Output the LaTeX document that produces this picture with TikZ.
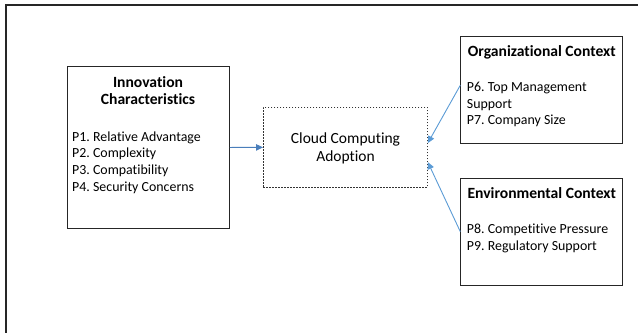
\documentclass[tikz,border=0pt]{standalone}
\usepackage{fontspec}
\setmainfont{Carlito}[Ligatures=NoCommon]
\usetikzlibrary{arrows.meta}
\definecolor{darkarrow}{HTML}{4A7EBB}
\definecolor{lightarrow}{HTML}{5B9BD5}
\frenchspacing
\begin{document}
\begin{tikzpicture}[x=1pt,y=-1pt,
  box/.style={draw=black!85,line width=0.9pt,inner sep=0pt,anchor=north west},
  dbox/.style={draw=black!80,line width=0.8pt,dash pattern=on 1.2pt off 1.8pt,inner sep=0pt,anchor=north west},
  txt/.style={inner sep=0pt,anchor=base west,font=\fontsize{13.9}{16}\selectfont},
  ttl/.style={inner sep=0pt,anchor=base,font=\fontsize{15.6}{18}\selectfont\bfseries},
  ctr/.style={inner sep=0pt,anchor=base,font=\fontsize{15.5}{18}\selectfont},
  conn/.style={line width=0.9pt,-{Triangle[length=7pt,width=6.5pt]}}]
\useasboundingbox (0,0) rectangle (639,332);
% outer frame (cut at right and bottom)
\draw[line width=1.8pt,black!85] (6,340) -- (6,5) -- (638,5);
% boxes
\node[box,minimum width=162pt,minimum height=162pt] (innov) at (67,66) {};
\node[dbox,minimum width=164pt,minimum height=80pt] (cloud) at (263,107) {};
\node[box,minimum width=162pt,minimum height=107pt] (org) at (460.3,35.7) {};
\node[box,minimum width=162pt,minimum height=107pt] (env) at (460.3,177.7) {};
% innovation texts
\node[ttl] (it1) at (148,87) {Innovation};
\node[ttl] (it2) at (148,104.6) {Characteristics};
\node[txt] (p1) at (72,141) {P1. Relative Advantage};
\node[txt] (p2) at (72,157.8) {P2. Complexity};
\node[txt] (p3) at (72,174.5) {P3. Compatibility};
\node[txt] (p4) at (72,191.5) {P4. Security Concerns};
% cloud
\node[ctr] (c1) at (345.5,143.5) {Cloud Computing};
\node[ctr] (c2) at (345.5,161.3) {Adoption};
% organizational
\node[ttl] (ot) at (541.8,56) {Organizational Context};
\node[txt] (p6) at (466.7,91.5) {P6. Top Management};
\node[txt] (p6b) at (466.7,108.1) {Support};
\node[txt] (p7) at (466.7,124.8) {P7. Company Size};
% environmental
\node[ttl] (et) at (541.8,198) {Environmental Context};
\node[txt] (p8) at (466.7,233.5) {P8. Competitive Pressure};
\node[txt] (p9) at (466.7,250.1) {P9. Regulatory Support};
% connectors
\draw[conn,darkarrow] (innov.east) -- (cloud.west);
\draw[conn,lightarrow] ([yshift=4.4pt]org.west) -- ([yshift=4.3pt]cloud.east);
\draw[conn,lightarrow] (env.west) -- ([yshift=-14.7pt]cloud.east);
\end{tikzpicture}
\end{document}
